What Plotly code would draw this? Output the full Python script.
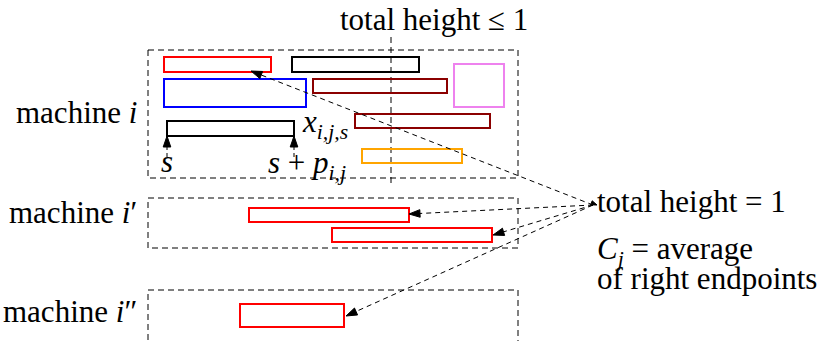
import math
import plotly.graph_objects as go

# ---------------- data (diagram coordinates, pixel-like units) ----------------
machine_labels = ["machine <i>i</i>", "machine <i>i</i>′", "machine <i>i</i>″"]
machine_top = [50, 198, 290]
machine_bottom = [178, 248, 360]
frame_left = [148, 148, 148]
frame_right = [518, 518, 518]
machine_label_y = [112, 212, 311]

job_color = ["#ff0000", "#000000", "#0000ff", "#8b0000", "#ee82ee",
             "#000000", "#8b0000", "#ffa500", "#ff0000", "#ff0000", "#ff0000"]
job_start = [164, 292, 164, 313, 454, 167, 355, 362, 249, 332, 240]
job_end = [271, 419, 306, 447, 504, 294, 490, 462, 409, 492, 344]
job_top = [57, 57, 79, 79, 64, 121, 114, 149, 208, 228, 304]
job_bottom = [72, 72, 107, 93, 107, 136, 128, 163, 222, 242, 327]

hub_x, hub_y = 593, 205
arrow_tip_x = [251, 409, 493, 346]
arrow_tip_y = [71, 214, 235, 316]

marker_x = [167, 294]
marker_tip_y = 136
marker_tail_y = 157

cut_x = 391
cut_y = [37, 186]

FS = 31
FAMILY = "Liberation Serif"

fig = go.Figure()


def text(x, y, s, xanchor="left"):
    styled = f'<span style="font-family:{FAMILY}">{s}</span>'
    fig.add_annotation(x=x, y=y, xref="x", yref="y", text=styled, showarrow=False,
                       xanchor=xanchor, yanchor="middle",
                       font=dict(family=FAMILY, size=FS, color="black"))


# texts first
for lab, ly in zip(machine_labels, machine_label_y):
    text(139, ly, lab, "right")

text(434, 19, "total height ≤ 1", "center")
text(595, 201, "total height = 1")
text(595, 251, "<i>C</i><sub><i>j</i></sub> = average")
text(595, 278, "of right endpoints")
text(300, 124, "<i>x</i><sub><i>i,j,s</i></sub>")
text(167, 161, "<i>s</i>", "center")
text(266, 165, "<i>s</i> + <i>p</i><sub><i>i,j</i></sub>")


def arrow_head(tx, ty, fx, fy, length=11, half=3.8):
    dx, dy = tx - fx, ty - fy
    d = math.hypot(dx, dy)
    ux, uy = dx / d, dy / d
    bx, by = round(tx - ux * length, 2), round(ty - uy * length, 2)
    px, py = round(-uy * half, 2), round(ux * half, 2)
    path = f"M{tx},{ty} L{bx + px:.2f},{by + py:.2f} L{bx - px:.2f},{by - py:.2f} Z"
    fig.add_shape(type="path", path=path, xref="x", yref="y",
                  fillcolor="black", line=dict(color="black", width=1))
    return bx, by


# dashed machine frames
for l, r, t, b in zip(frame_left, frame_right, machine_top, machine_bottom):
    fig.add_shape(type="rect", x0=l, x1=r, y0=t, y1=b, xref="x", yref="y",
                  line=dict(color="black", width=1, dash="6px,4px"))

# vertical cut line
fig.add_shape(type="line", x0=cut_x, x1=cut_x, y0=cut_y[0], y1=cut_y[1],
              xref="x", yref="y", line=dict(color="black", width=1, dash="6px,4px"))

# jobs
for c, x0, x1, y0, y1 in zip(job_color, job_start, job_end, job_top, job_bottom):
    fig.add_shape(type="rect", x0=x0, x1=x1, y0=y0, y1=y1, xref="x", yref="y",
                  line=dict(color=c, width=2))

# arrows from label hub
for tx, ty in zip(arrow_tip_x, arrow_tip_y):
    bx, by = arrow_head(tx, ty, hub_x, hub_y)
    fig.add_shape(type="line", x0=hub_x, y0=hub_y, x1=bx, y1=by, xref="x", yref="y",
                  line=dict(color="black", width=1, dash="5px,4px"))
# small head at the label
arrow_head(hub_x + 4, hub_y, arrow_tip_x[0], arrow_tip_y[0], length=6, half=2.2)

# s / s+p markers
for mx in marker_x:
    bx, by = arrow_head(mx, marker_tip_y, mx, marker_tail_y)
    fig.add_shape(type="line", x0=mx, x1=mx, y0=marker_tail_y, y1=by, xref="x", yref="y",
                  line=dict(color="black", width=1, dash="4px,3px"))

fig.update_layout(
    width=820, height=341,
    margin=dict(l=0, r=0, t=0, b=0),
    paper_bgcolor="white", plot_bgcolor="white",
    showlegend=False,
    font=dict(family=FAMILY, size=FS, color="black"),
    xaxis=dict(range=[0, 820], visible=False),
    yaxis=dict(range=[341, 0], visible=False),
)

fig.write_html("out.html", config={"displayModeBar": False},
               post_script="document.body.style.margin='0px';")
